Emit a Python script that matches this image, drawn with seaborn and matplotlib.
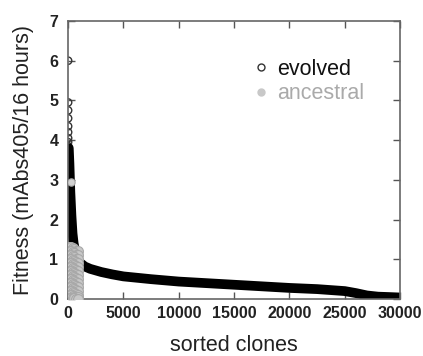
import matplotlib
matplotlib.use("Agg")
import matplotlib.pyplot as plt
import seaborn as sns
import pandas as pd
from matplotlib.lines import Line2D

sns.set_theme(style="white")
plt.rcParams['font.family'] = ['Liberation Sans', 'DejaVu Sans']

# evolved: isolated high clones at the start of the sorted list
evolved_top_clone = [0, 0, 0, 0, 0, 0, 0, 0, 0]
evolved_top_fitness = [6.0, 4.95, 4.75, 4.55, 4.35, 4.2, 4.05, 3.95, 3.85]

# evolved: the dense sorted curve
evolved_clone = [60, 120, 200, 300, 400, 500, 650, 800, 1000, 1500, 2000, 3000,
                 4000, 5000, 7500, 10000, 12500, 15000, 17500, 20000, 22500,
                 25000, 26000, 27000, 28000, 29000, 29900]
evolved_fitness = [3.8, 3.4, 2.7, 2.1, 1.65, 1.4, 1.2, 1.05, 0.93, 0.82, 0.76, 0.68,
                   0.62, 0.57, 0.5, 0.44, 0.4, 0.36, 0.32, 0.28, 0.25,
                   0.2, 0.15, 0.09, 0.06, 0.05, 0.04]

# ancestral outlier
ancestral_top_clone = [300]
ancestral_top_fitness = [2.95]

# ancestral clones (dense block at the start of the sorted list)
ancestral_clone = [100, 250, 400, 550, 700, 850,
                   100, 250, 400, 550, 700, 850,
                   100, 250, 400, 550, 700, 850,
                   100, 250, 400, 550, 700, 850,
                   100, 250, 400, 550, 700, 850,
                   100, 250, 400, 550, 700, 850,
                   100, 250, 400, 550, 700, 850,
                   100, 250, 400, 550, 700, 850,
                   100, 250, 400, 550, 700, 850,
                   100, 250, 400, 550, 700, 850,
                   100, 250, 400, 550, 700, 850,
                   100, 250, 400, 550, 700, 850,
                   100, 250, 400, 550, 700, 850,
                   100, 250, 400, 550, 700, 850]
ancestral_fitness = [1.3, 1.3, 1.28, 1.25, 1.22, 1.2,
                     1.2, 1.2, 1.18, 1.15, 1.12, 1.1,
                     1.1, 1.1, 1.08, 1.05, 1.02, 1.0,
                     1.0, 1.0, 0.98, 0.95, 0.92, 0.9,
                     0.9, 0.9, 0.88, 0.85, 0.82, 0.8,
                     0.8, 0.8, 0.78, 0.75, 0.72, 0.7,
                     0.7, 0.7, 0.68, 0.65, 0.62, 0.6,
                     0.6, 0.6, 0.58, 0.55, 0.52, 0.5,
                     0.5, 0.5, 0.48, 0.45, 0.42, 0.4,
                     0.4, 0.4, 0.38, 0.35, 0.32, 0.3,
                     0.3, 0.3, 0.28, 0.25, 0.22, 0.2,
                     0.2, 0.2, 0.18, 0.15, 0.12, 0.1,
                     0.1, 0.1, 0.08, 0.06, 0.05, 0.05,
                     0.03, 0.03, 0.02, 0.02, 0.01, 0.01]

x_ticks = [0, 5000, 10000, 15000, 20000, 25000, 30000]
y_ticks = [0, 1, 2, 3, 4, 5, 6, 7]

df_ev = pd.DataFrame({'clone': evolved_clone, 'fitness': evolved_fitness})
df_top = pd.DataFrame({'clone': evolved_top_clone, 'fitness': evolved_top_fitness})
df_anc = pd.DataFrame({'clone': ancestral_clone, 'fitness': ancestral_fitness})
df_anc_top = pd.DataFrame({'clone': ancestral_top_clone, 'fitness': ancestral_top_fitness})

fig = plt.figure(figsize=(4.23, 3.56), dpi=100)
ax = fig.add_axes([0.161, 0.16, 0.785, 0.781])

sns.lineplot(data=df_ev, x='clone', y='fitness', color='black', linewidth=7,
             ax=ax, sort=False)
sns.scatterplot(data=df_top, x='clone', y='fitness', marker='o', s=28,
                facecolor='none', edgecolor='#333333', linewidth=1, ax=ax)
sns.scatterplot(data=df_anc, x='clone', y='fitness', marker='o', s=50,
                color='#c8c8c8', edgecolor='#a8a8a8', linewidth=0.8, ax=ax,
                zorder=5)
sns.scatterplot(data=df_anc_top, x='clone', y='fitness', marker='o', s=28,
                color='#d0d0d0', edgecolor='#a8a8a8', linewidth=0.8, ax=ax,
                zorder=5)

ax.set_xlim(0, 30000)
ax.set_ylim(0, 7)
ax.set_xticks(x_ticks)
ax.set_yticks(y_ticks)
ax.set_xticklabels([str(t) for t in x_ticks], fontweight='bold', fontsize=11.5, color='#222222')
ax.set_yticklabels([str(t) for t in y_ticks], fontweight='bold', fontsize=11.5, color='#222222')
ax.tick_params(direction='in', length=5, width=1, color='#555555',
               top=True, right=True, bottom=True, left=True)
ax.tick_params(axis='y', pad=7)
ax.tick_params(axis='x', pad=5)
for s in ax.spines.values():
    s.set_color('#666666')
    s.set_linewidth(1.2)
ax.grid(False)

ax.set_xlabel('sorted clones', fontsize=15.5, color='#222222', labelpad=10)
ax.set_ylabel('Fitness (mAbs405/16 hours)', fontsize=15.5, color='#222222', labelpad=11)

handles = [
    Line2D([], [], marker='o', linestyle='none', markersize=5,
           markerfacecolor='none', markeredgecolor='#333333'),
    Line2D([], [], marker='o', linestyle='none', markersize=5,
           markerfacecolor='#c8c8c8', markeredgecolor='#c8c8c8'),
]
ax.legend(handles, ['evolved', 'ancestral'], loc='upper left',
          bbox_to_anchor=(0.54, 0.895), frameon=False, fontsize=15.5,
          labelcolor=['#111111', '#aaaaaa'], handletextpad=0.5,
          handlelength=0.5, labelspacing=0.15, borderaxespad=0)

fig.savefig('out.png', dpi=100)
